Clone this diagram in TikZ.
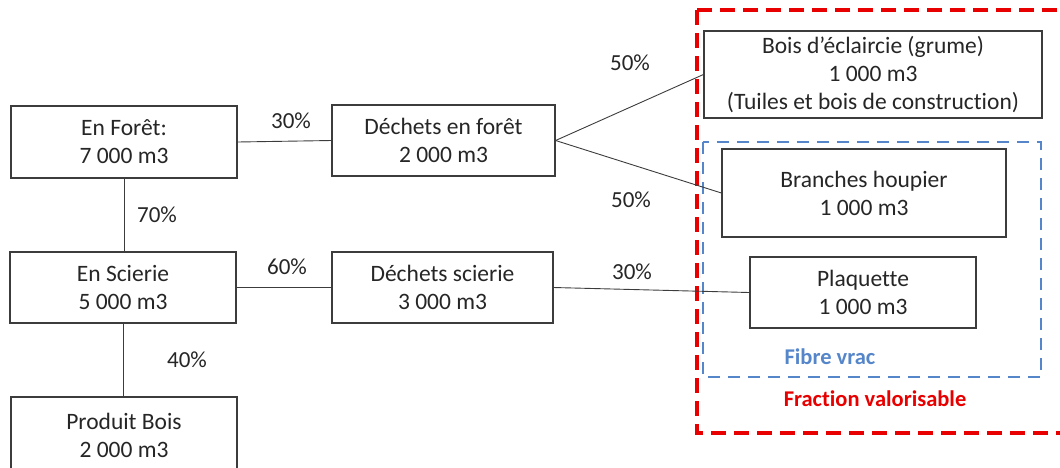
\documentclass[tikz,border=0pt]{standalone}
\usepackage{fontspec}
\setmainfont{Carlito}[Ligatures=NoCommon]
\definecolor{txt}{RGB}{38,38,38}
\definecolor{zonered}{RGB}{232,0,0}
\definecolor{zoneblue}{RGB}{86,134,202}
\tikzset{
  box/.style={draw=txt!90, line width=1.2pt, fill=white, align=center,
    text=txt, inner sep=0pt, font=\fontsize{23.5}{28}\selectfont},
  link/.style={draw=txt!90, line width=0.9pt},
  pct/.style={text=txt, font=\fontsize{23}{26}\selectfont, inner sep=0pt},
  redzone/.style={draw=zonered, line width=3.6pt, dash pattern=on 15pt off 8pt},
  bluezone/.style={draw=zoneblue, line width=2.8pt, dash pattern=on 12pt off 8pt},
  zonelabel/.style={font=\bfseries\fontsize{22.5}{26}\selectfont, inner sep=0pt},
}
\begin{document}
\begin{tikzpicture}[x=1pt,y=-1pt]
  \useasboundingbox (0,0) rectangle (1060,467);
  \clip (0,0) rectangle (1060,467);

  % zones
  \draw[redzone] (697,10) rectangle (1075,433);
  \draw[bluezone] (703,142) rectangle (1041,377);
  \node[zonelabel, text=zoneblue] (fibre) at (830,357) {Fibre vrac};
  \node[zonelabel, text=zonered] (fraction) at (875,399) {Fraction valorisable};

  % boxes
  \node[box, minimum width=226pt, minimum height=72pt] (foret) at (124,142) {En Forêt:\\7 000 m3};
  \node[box, minimum width=226pt, minimum height=71pt] (scierie) at (123,287.5) {En Scierie\\5 000 m3};
  \node[box, minimum width=226pt, minimum height=76pt] (produit) at (124,435) {Produit Bois\\2 000 m3};
  \node[box, minimum width=223pt, minimum height=71pt] (dforet) at (443.5,140.5) {Déchets en forêt\\2 000 m3};
  \node[box, minimum width=221pt, minimum height=71pt] (dscierie) at (442.5,287.5) {Déchets scierie\\3 000 m3};
  \node[box, minimum width=338pt, minimum height=87pt] (bois) at (873,74.5) {Bois d’éclaircie (grume)\\1 000 m3\\(Tuiles et bois de construction)};
  \node[box, minimum width=284pt, minimum height=88pt] (branches) at (864,193) {Branches houpier\\1 000 m3};
  \node[box, minimum width=226pt, minimum height=71pt] (plaquette) at (863,292.5) {Plaquette\\1 000 m3};

  % connectors
  \draw[link] (foret.east) -- (dforet.west);
  \draw[link] (foret.south) -- (foret.south |- scierie.north);
  \draw[link] (scierie.east) -- (scierie.east -| dscierie.west);
  \draw[link] (scierie.south) -- (scierie.south |- produit.north);
  \draw[link] (dforet.east) -- (bois.west);
  \draw[link] (dforet.east) -- (branches.west);
  \draw[link] (dscierie.east) -- (plaquette.west);

  % percentages
  \node[pct] (p30a) at (291,121) {30\%};
  \node[pct] (p70) at (157,215) {70\%};
  \node[pct] (p60) at (287,267) {60\%};
  \node[pct] (p40) at (187,360) {40\%};
  \node[pct] (p50a) at (630,63) {50\%};
  \node[pct] (p50b) at (631,200) {50\%};
  \node[pct] (p30b) at (632,272) {30\%};
\end{tikzpicture}
\end{document}
